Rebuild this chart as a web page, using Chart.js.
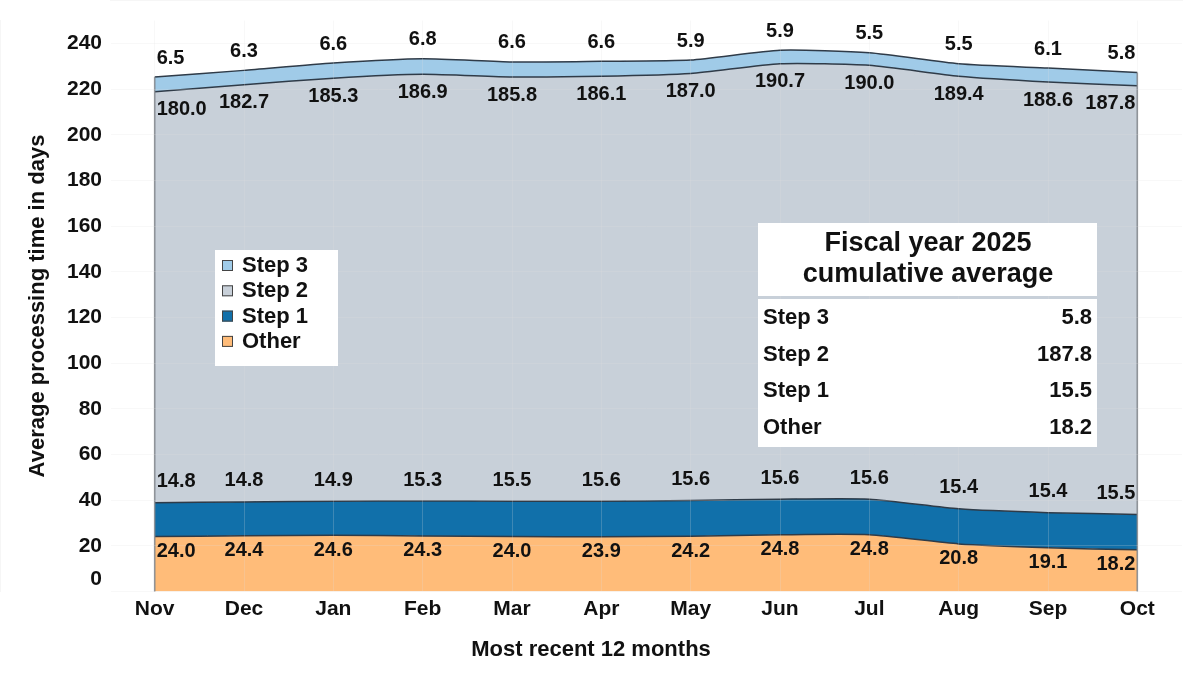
<!DOCTYPE html>
<html lang="en">
<head>
<meta charset="UTF-8">
<title>Average processing time</title>
<script src="https://cdn.jsdelivr.net/npm/chart.js"></script>
<style>
  body { margin: 0; background: #fff; }
  #wrap { width: 1200px; height: 675px; }
</style>
</head>
<body>
<div id="wrap"><canvas id="chart"></canvas></div>
<script>
const months = ['Nov', 'Dec', 'Jan', 'Feb', 'Mar', 'Apr', 'May', 'Jun', 'Jul', 'Aug', 'Sep', 'Oct'];
const other = [24.0, 24.4, 24.6, 24.3, 24.0, 23.9, 24.2, 24.8, 24.8, 20.8, 19.1, 18.2];
const step1 = [14.8, 14.8, 14.9, 15.3, 15.5, 15.6, 15.6, 15.6, 15.6, 15.4, 15.4, 15.5];
const step2 = [180.0, 182.7, 185.3, 186.9, 185.8, 186.1, 187.0, 190.7, 190.0, 189.4, 188.6, 187.8];
const step3 = [6.5, 6.3, 6.6, 6.8, 6.6, 6.6, 5.9, 5.9, 5.5, 5.5, 6.1, 5.8];
const yTicks = [0, 20, 40, 60, 80, 100, 120, 140, 160, 180, 200, 220, 240];

const summaryTitle = ['Fiscal year 2025', 'cumulative average'];
const summaryLabels = ['Step 3', 'Step 2', 'Step 1', 'Other'];
const summaryValues = [5.8, 187.8, 15.5, 18.2];

const FONT = "'Liberation Sans', Arial, sans-serif";
const TEXT = '#111';
const GRID = 'rgba(225,225,225,0.22)';

// label offset from the top edge of each layer (+ = below, - = above)
const labelShift = [15, -21, 18, -19];

const valueLabels = {
    id: 'valueLabels',
    afterDatasetsDraw(chart) {
        const ctx = chart.ctx;
        const y0 = chart.scales.y.getPixelForValue(0);
        // grey side edges of the stacked area
        const topPts = chart.getDatasetMeta(3).data;
        ctx.save();
        ctx.strokeStyle = '#7a7f86';
        ctx.lineWidth = 1.5;
        [topPts[0], topPts[topPts.length - 1]].forEach(p => {
            ctx.beginPath();
            ctx.moveTo(p.x, p.y);
            ctx.lineTo(p.x, y0);
            ctx.stroke();
        });
        ctx.restore();
    },
    afterDraw(chart) {
        const ctx = chart.ctx;
        ctx.save();
        ctx.font = 'bold 20px ' + FONT;
        ctx.fillStyle = TEXT;
        ctx.textBaseline = 'middle';
        chart.data.datasets.forEach((ds, i) => {
            const pts = chart.getDatasetMeta(i).data;
            pts.forEach((p, j) => {
                let x = p.x;
                ctx.textAlign = 'center';
                if (j === 0) { ctx.textAlign = 'left'; x += 2; }
                if (j === pts.length - 1) { ctx.textAlign = 'right'; x -= 2; }
                ctx.fillText(ds.data[j].toFixed(1), x, p.y + labelShift[i]);
            });
        });

        // legend box
        ctx.fillStyle = '#fff';
        ctx.fillRect(215, 250, 123, 116);
        const legendOrder = [3, 2, 1, 0];
        legendOrder.forEach((di, k) => {
            const ds = chart.data.datasets[di];
            const cy = 265 + k * 25.3;
            ctx.fillStyle = ds.backgroundColor;
            ctx.fillRect(222, cy - 5, 11, 11);
            ctx.strokeStyle = '#444';
            ctx.lineWidth = 1;
            ctx.strokeRect(222.5, cy - 4.5, 10, 10);
            ctx.fillStyle = TEXT;
            ctx.textAlign = 'left';
            ctx.font = 'bold 22px ' + FONT;
            ctx.fillText(ds.label, 242, cy + 1);
        });

        // summary table
        ctx.fillStyle = '#fff';
        ctx.fillRect(758, 223, 339, 73);
        ctx.fillRect(758, 299, 339, 148);
        ctx.fillStyle = TEXT;
        ctx.textAlign = 'center';
        ctx.font = 'bold 27px ' + FONT;
        ctx.fillText(summaryTitle[0], 928, 244);
        ctx.fillText(summaryTitle[1], 928, 275);
        ctx.font = 'bold 22px ' + FONT;
        summaryLabels.forEach((lab, k) => {
            const cy = 318 + k * 36.7;
            ctx.textAlign = 'left';
            ctx.fillText(lab, 763, cy);
            ctx.textAlign = 'right';
            ctx.fillText(summaryValues[k].toFixed(1), 1092, cy);
        });
        ctx.restore();
    }
};

function layer(label, data, color, fill) {
    return {
        label: label,
        data: data,
        backgroundColor: color,
        borderColor: '#2f3b48',
        borderWidth: 1.5,
        fill: fill,
        pointRadius: 0,
        tension: 0.2
    };
}

new Chart(document.getElementById('chart'), {
    type: 'line',
    data: {
        labels: months,
        datasets: [
            layer('Other', other, '#ffbc79', 'origin'),
            layer('Step 1', step1, '#1170aa', '-1'),
            layer('Step 2', step2, '#c8d0d9', '-1'),
            layer('Step 3', step3, '#a0cbe8', '-1')
        ]
    },
    options: {
        responsive: true,
        maintainAspectRatio: false,
        animation: false,
        layout: { padding: { top: 20, right: 18, left: 0, bottom: 0 } },
        plugins: {
            legend: { display: false },
            tooltip: { enabled: false },
            title: {
                display: true,
                position: 'bottom',
                text: 'Most recent 12 months',
                color: TEXT,
                font: { family: FONT, size: 22, weight: 'bold' },
                padding: { top: 10, bottom: 12 }
            }
        },
        scales: {
            x: {
                offset: true,
                grid: { color: GRID, drawTicks: false, z: 1 },
                border: { color: 'rgba(225,225,225,0.6)' },
                ticks: {
                    color: TEXT,
                    padding: 5,
                    maxRotation: 0,
                    autoSkip: false,
                    font: { family: FONT, size: 21, weight: 'bold' }
                }
            },
            y: {
                stacked: true,
                min: 0,
                max: 250,
                afterBuildTicks(scale) {
                    scale.ticks = yTicks.map(v => ({ value: v }));
                },
                afterFit(scale) { scale.width = 110; },
                grid: { color: GRID, drawTicks: false, z: 1 },
                border: { color: 'rgba(225,225,225,0.6)' },
                title: {
                    display: true,
                    text: 'Average processing time in days',
                    color: TEXT,
                    font: { family: FONT, size: 22, weight: 'bold' },
                    padding: { top: 25, bottom: 0 }
                },
                ticks: {
                    color: TEXT,
                    padding: 8,
                    autoSkip: false,
                    font: { family: FONT, size: 21, weight: 'bold' },
                    callback: v => (v === 0 ? ['0', ''] : String(v))
                }
            }
        }
    },
    plugins: [valueLabels]
});
</script>
</body>
</html>
